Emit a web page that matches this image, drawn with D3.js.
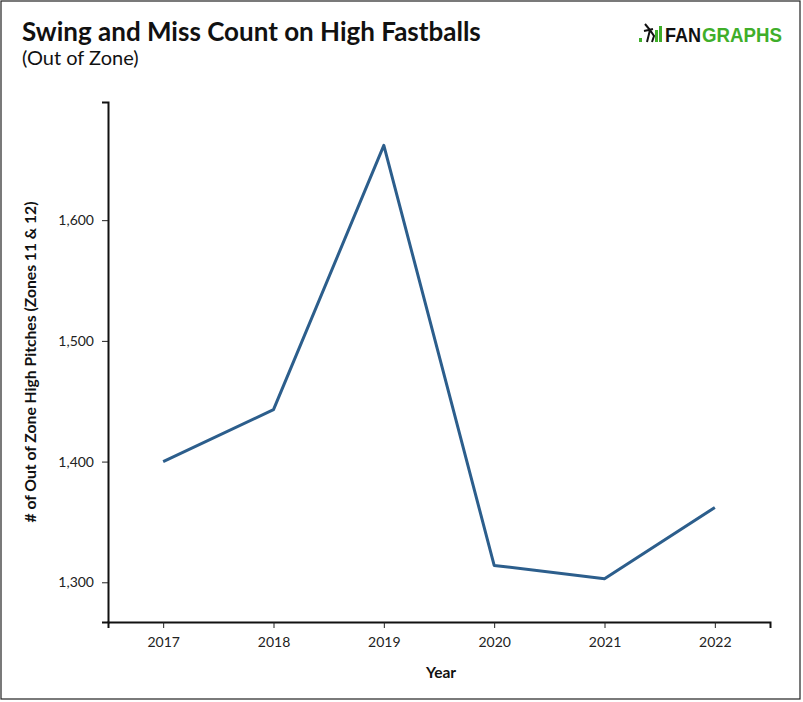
<!DOCTYPE html>
<html><head><meta charset="utf-8">
<script src="https://cdn.jsdelivr.net/npm/d3@7"></script>
<style>body{margin:0;background:#fff}svg{display:block}</style>
</head><body>
<script>
const years = ["2017","2018","2019","2020","2021","2022"];
const counts = [1400, 1443, 1662, 1314, 1303, 1362];
const yTicks = [1300, 1400, 1500, 1600];

(function(){
const W = 803, H = 702;
const svg = d3.select("body").append("svg").attr("width", W).attr("height", H);
svg.append("rect").attr("x",1).attr("y",1).attr("width",799).attr("height",698)
  .attr("fill","#fff").attr("stroke","#222").attr("stroke-width",1.2);

const pLeft = 108, pRight = 770, pTop = 102, pBottom = 622;
const x = d3.scalePoint().domain(years).range([pLeft, pRight]).padding(0.5);
const mn = d3.min(counts), mx = d3.max(counts), pad = (mx - mn) * 0.1;
const y = d3.scaleLinear().domain([mn - pad, mx + pad]).range([pBottom, pTop]);

const font = "Lato, 'Open Sans', sans-serif";

svg.append("text").attr("x",22).attr("y",41).attr("font-family",font)
  .attr("font-weight",700).attr("font-size",26).attr("fill","#111")
  .text("Swing and Miss Count on High Fastballs");
svg.append("text").attr("x",22).attr("y",65).attr("font-family",font)
  .attr("font-size",20).attr("fill","#111").text("(Out of Zone)");

const gx = svg.append("g").attr("transform",`translate(0,${pBottom})`)
  .call(d3.axisBottom(x).tickSizeOuter(0).tickSize(6).tickPadding(9));
const gy = svg.append("g").attr("transform",`translate(${pLeft},0)`)
  .call(d3.axisLeft(y).tickValues(yTicks).tickFormat(d3.format(",")).tickSizeOuter(0).tickSize(6).tickPadding(8));
[gx, gy].forEach(g => {
  g.selectAll("text").attr("font-family",font).attr("font-size",14).attr("fill","#222");
  g.selectAll(".tick line").attr("stroke","#222");
  g.select(".domain").attr("stroke","#111").attr("stroke-width",2);
});

svg.append("text").attr("x",441).attr("y",678).attr("text-anchor","middle")
  .attr("font-family",font).attr("font-weight",700).attr("font-size",15.5).attr("fill","#111").text("Year");
svg.append("text").attr("transform",`translate(36,${(pTop+pBottom)/2}) rotate(-90)`)
  .attr("text-anchor","middle").attr("font-family",font).attr("font-weight",700)
  .attr("font-size",15.7).attr("fill","#111").text("# of Out of Zone High Pitches (Zones 11 & 12)");

const line = d3.line().x((d,i)=>x(years[i])).y(d=>y(d));
svg.append("path").datum(counts).attr("d",line).attr("fill","none")
  .attr("stroke","#2c5e8c").attr("stroke-width",3).attr("stroke-linejoin","round");

const lg = svg.append("g");
const green = "#3fae2a";
lg.append("rect").attr("x",639).attr("y",38).attr("width",3).attr("height",4).attr("fill",green);
lg.append("path").attr("d","M645,24 L650,30 L647,42 M650,30 L654,36 L652,42 M644,31 L653,29").attr("stroke","#111").attr("stroke-width",2).attr("fill","none");
lg.append("rect").attr("x",655).attr("y",30).attr("width",3).attr("height",12).attr("fill",green);
lg.append("rect").attr("x",659).attr("y",26).attr("width",3).attr("height",16).attr("fill",green);
lg.append("text").attr("x",665).attr("y",42).attr("font-family","Liberation Sans, Arial, sans-serif")
  .attr("font-weight",700).attr("font-size",20).attr("fill","#111")
  .attr("textLength",36).attr("lengthAdjust","spacingAndGlyphs").text("FAN");
lg.append("text").attr("x",702).attr("y",42).attr("font-family","Liberation Sans, Arial, sans-serif")
  .attr("font-weight",700).attr("font-size",20).attr("fill",green)
  .attr("textLength",80).attr("lengthAdjust","spacingAndGlyphs").text("GRAPHS");
})();
</script>
</body></html>
